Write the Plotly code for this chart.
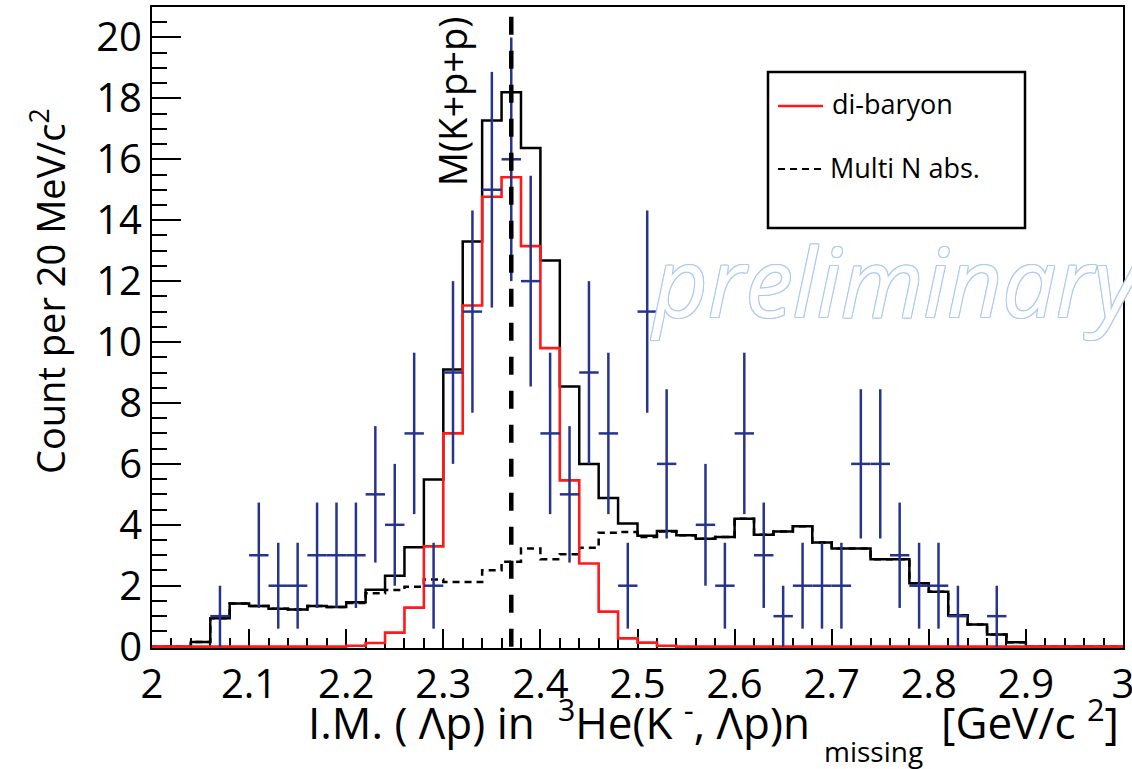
import plotly.graph_objects as go

# ---------------- data ----------------
bin_centers = [2.01, 2.03, 2.05, 2.07, 2.09, 2.11, 2.13, 2.15, 2.17, 2.19,
               2.21, 2.23, 2.25, 2.27, 2.29, 2.31, 2.33, 2.35, 2.37, 2.39,
               2.41, 2.43, 2.45, 2.47, 2.49, 2.51, 2.53, 2.55, 2.57, 2.59,
               2.61, 2.63, 2.65, 2.67, 2.69, 2.71, 2.73, 2.75, 2.77, 2.79,
               2.81, 2.83, 2.85, 2.87, 2.89, 2.91, 2.93, 2.95, 2.97, 2.99]

data_counts = [0, 0, 0, 1, 0, 3, 2, 2, 3, 3,
               3, 5, 4, 7, 2, 9, 11, 15, 16, 12,
               7, 5, 9, 7, 2, 11, 6, 0, 4, 2,
               7, 3, 1, 2, 2, 2, 6, 6, 3, 2,
               2, 1, 0, 1, 0, 0, 0, 0, 0, 0]

data_errors = [0, 0, 0, 1.0, 0, 1.73, 1.41, 1.41, 1.73, 1.73,
               1.73, 2.24, 2.0, 2.65, 1.41, 3.0, 3.32, 3.87, 4.0, 3.46,
               2.65, 2.24, 3.0, 2.65, 1.41, 3.32, 2.45, 0, 2.0, 1.41,
               2.65, 1.73, 1.0, 1.41, 1.41, 1.41, 2.45, 2.45, 1.73, 1.41,
               1.41, 1.0, 0, 1.0, 0, 0, 0, 0, 0, 0]

total_fit = [0, 0, 0.15, 0.93, 1.42, 1.33, 1.24, 1.22, 1.33, 1.30,
             1.46, 1.87, 2.33, 3.26, 5.49, 9.1, 13.3, 17.27, 18.2, 16.37,
             12.68, 8.54, 6.0, 4.88, 4.04, 3.64, 3.8, 3.66, 3.54, 3.6,
             4.2, 3.67, 3.78, 3.95, 3.42, 3.22, 3.22, 2.87, 2.87, 2.08,
             1.8, 1.02, 0.73, 0.4, 0.14, 0, 0, 0, 0, 0]

multi_n_abs = [0, 0, 0.15, 0.93, 1.42, 1.33, 1.24, 1.22, 1.33, 1.30,
               1.43, 1.75, 1.86, 1.97, 2.2, 2.12, 2.12, 2.51, 2.79, 3.22,
               2.87, 3.03, 3.25, 3.74, 3.76, 3.6, 3.78, 3.66, 3.54, 3.6,
               4.2, 3.67, 3.78, 3.95, 3.42, 3.22, 3.22, 2.87, 2.87, 2.08,
               1.8, 1.02, 0.73, 0.4, 0.14, 0, 0, 0, 0, 0]

di_baryon = [0, 0, 0, 0, 0, 0, 0, 0, 0, 0,
             0.03, 0.12, 0.46, 1.28, 3.29, 7.0, 11.2, 14.77, 15.41, 13.15,
             9.8, 5.46, 2.73, 1.15, 0.27, 0.13, 0.03, 0, 0, 0,
             0, 0, 0, 0, 0, 0, 0, 0, 0, 0,
             0, 0, 0, 0, 0, 0, 0, 0, 0, 0]

BIN_WIDTH = 0.02
M_KPP = 2.37          # M(K+p+p) threshold marker
X_RANGE = [2, 3]
Y_RANGE = [-0.045, 21]

# ---------------- geometry ----------------
W, H = 1132, 769
ML, MR, MT, MB = 152, 9, 7, 121
PW, PH = W - ML - MR, H - MT - MB


def px(xp):
    return (xp - ML) / PW


def py(yp):
    return (H - MB - yp) / PH


FONT = "Open Sans"
NAVY = "#27348b"
RED = "#ff1a1a"


def steps(vals):
    xs = [c - BIN_WIDTH / 2 for c in bin_centers] + [bin_centers[-1] + BIN_WIDTH / 2]
    ys = list(vals) + [vals[-1]]
    return xs, ys


fig = go.Figure()

xs, ys = steps(total_fit)
fig.add_trace(go.Scatter(x=xs, y=ys, mode="lines", line=dict(shape="hv", color="black", width=2.5),
                         showlegend=False))
xs, ys = steps(multi_n_abs)
fig.add_trace(go.Scatter(x=xs, y=ys, mode="lines",
                         line=dict(shape="hv", color="black", width=2.5, dash="7px,5px"),
                         showlegend=False))
xs, ys = steps(di_baryon)
fig.add_trace(go.Scatter(x=xs, y=ys, mode="lines", line=dict(shape="hv", color=RED, width=2.6),
                         showlegend=False))

pt_x = [c for c, n in zip(bin_centers, data_counts) if n > 0]
pt_y = [n for n in data_counts if n > 0]
pt_e = [e for e, n in zip(data_errors, data_counts) if n > 0]
fig.add_trace(go.Scatter(
    x=pt_x, y=pt_y, mode="markers", marker=dict(size=1, color=NAVY),
    error_y=dict(type="data", array=pt_e, visible=True, color=NAVY, thickness=2.5, width=0),
    error_x=dict(type="constant", value=BIN_WIDTH / 2, visible=True, color=NAVY, thickness=2.5, width=0),
    showlegend=False))

# threshold line
fig.add_shape(type="line", xref="x", yref="y", x0=M_KPP, x1=M_KPP, y0=0, y1=Y_RANGE[1],
              line=dict(color="black", width=4.5, dash="18px,16px"))

annotations = []
annotations.append(dict(x=M_KPP, xref="x", xshift=-59, y=py(101), yref="paper",
                        xanchor="center", yanchor="middle",
                        text="M(K+p+p)", textangle=-90, showarrow=False,
                        font=dict(family=FONT, size=38, color="black")))

# watermark
outline = "#aecaf0"
shadow = ", ".join(f"{dx}px {dy}px 0 {outline}" for dx, dy in
                   [(1, 0), (-1, 0), (0, 1), (0, -1), (1, 1), (-1, -1), (1, -1), (-1, 1)])
annotations.append(dict(x=px(896), y=py(280), xref="paper", yref="paper",
                        xanchor="center", yanchor="middle",
                        text="preliminary", showarrow=False,
                        font=dict(family=FONT, size=95, color="white",
                                  style="italic", shadow=shadow)))

# legend (drawn)
fig.add_shape(type="rect", xref="paper", yref="paper", x0=px(768), x1=px(1025), y0=py(228), y1=py(72),
              line=dict(color="black", width=2.5), fillcolor="white", layer="above")
fig.add_shape(type="line", xref="paper", yref="paper", x0=px(778), x1=px(823), y0=py(106), y1=py(106),
              line=dict(color=RED, width=2.5))
fig.add_shape(type="line", xref="paper", yref="paper", x0=px(778), x1=px(825), y0=py(169), y1=py(169),
              line=dict(color="black", width=2, dash="7px,5px"))
annotations.append(dict(x=px(830), y=py(104), xref="paper", yref="paper",
                        xanchor="left", yanchor="middle",
                        text="di-baryon", showarrow=False,
                        font=dict(family=FONT, size=27, color="black")))
annotations.append(dict(x=px(828), y=py(167), xref="paper", yref="paper",
                        xanchor="left", yanchor="middle",
                        text="Multi N abs.", showarrow=False,
                        font=dict(family=FONT, size=27, color="black")))

# axis titles
annotations.append(dict(x=px(48), y=py(291), xref="paper", yref="paper", textangle=-90,
                        xanchor="center", yanchor="middle",
                        text="Count per 20 MeV/c<sup>2</sup>", showarrow=False,
                        font=dict(family=FONT, size=38, color="black")))
annotations.append(dict(x=px(812), y=py(720), xref="paper", yref="paper",
                        xanchor="right", yanchor="middle",
                        text="I.M. ( Λp) in  <sup>3</sup>He(K <sup>-</sup>, Λp)n",
                        showarrow=False, font=dict(family=FONT, size=44, color="black")))
annotations.append(dict(x=px(822), y=py(751), xref="paper", yref="paper",
                        xanchor="left", yanchor="middle",
                        text="missing",
                        showarrow=False, font=dict(family=FONT, size=28, color="black")))
annotations.append(dict(x=px(1121), y=py(720), xref="paper", yref="paper",
                        xanchor="right", yanchor="middle",
                        text="[GeV/c <sup>2</sup>]",
                        showarrow=False, font=dict(family=FONT, size=44, color="black")))

fig.update_layout(
    width=W, height=H, margin=dict(l=ML, r=MR, t=MT, b=MB, autoexpand=False),
    paper_bgcolor="white", plot_bgcolor="white",
    annotations=annotations,
    xaxis=dict(range=X_RANGE, dtick=0.1, tick0=2, showgrid=False, zeroline=False,
               showline=True, linecolor="black", linewidth=2, mirror=True,
               ticks="inside", ticklen=19, tickwidth=2, tickcolor="black",
               minor=dict(dtick=BIN_WIDTH, ticks="inside", ticklen=10, tickwidth=2, tickcolor="black"),
               tickfont=dict(family=FONT, size=40, color="black"), layer="below traces",
               ticklabeloverflow="allow", automargin=False),
    yaxis=dict(range=Y_RANGE, dtick=2, tick0=0, showgrid=False, zeroline=False,
               showline=True, linecolor="black", linewidth=2, mirror=True,
               ticks="inside", ticklen=29, tickwidth=2, tickcolor="black",
               minor=dict(dtick=0.5, ticks="inside", ticklen=15, tickwidth=2, tickcolor="black"),
               tickfont=dict(family=FONT, size=40, color="black"), layer="below traces",
               automargin=False),
)

fig.write_html("out.html")
